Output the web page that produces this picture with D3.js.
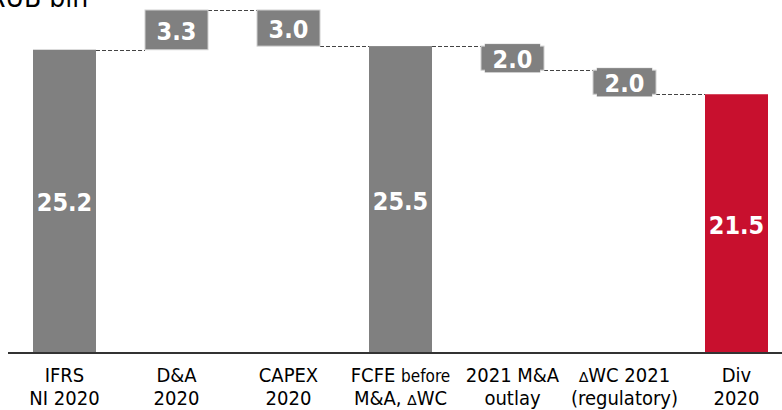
<!DOCTYPE html>
<html>
<head>
<meta charset="utf-8">
<script src="https://cdn.jsdelivr.net/npm/d3@7"></script>
<style>
  html, body { margin: 0; padding: 0; background: #fff; }
  svg { display: block; }
</style>
</head>
<body>
<svg id="chart" width="782" height="410"></svg>
<script>
// ---- data ----
const categories = ["IFRS|NI 2020", "D&A|2020", "CAPEX|2020", "FCFE before|M&A, \u2206WC", "2021 M&A|outlay", "\u2206WC 2021|(regulatory)", "Div|2020"];
const values = [25.2, 3.3, -3.0, 25.5, -2.0, -2.0, 21.5];
const kinds = ["total", "delta", "delta", "total", "delta", "delta", "final"];
const valueLabels = ["25.2", "3.3", "3.0", "25.5", "2.0", "2.0", "21.5"];
const unitLabel = "RUB bln";

// ---- build waterfall ----
let run = 0;
const rows = categories.map((c, i) => {
  let y0, y1;
  if (kinds[i] === "delta") { y0 = run; y1 = run + values[i]; run = y1; }
  else { y0 = 0; y1 = values[i]; run = values[i]; }
  return { cat: c, lo: Math.min(y0, y1), hi: Math.max(y0, y1), end: run, kind: kinds[i], label: valueLabels[i] };
});

const svg = d3.select("#chart");
const font = "'DejaVu Sans Condensed', 'DejaVu Sans', sans-serif";

const x = d3.scaleBand().domain(categories).range([8.5, 792.5]).paddingInner(0.4375).paddingOuter(0.21875);
const y = d3.scaleLinear().domain([0, 28.5]).range([353, 10]);

const gray = "#808080", red = "#C8102E", edge = "#cfcfcf";

// connectors
for (let i = 0; i < rows.length - 1; i++) {
  const lv = rows[i].end;
  svg.append("line")
    .attr("x1", x(rows[i].cat) + x.bandwidth())
    .attr("x2", x(rows[i + 1].cat))
    .attr("y1", Math.round(y(lv)) + 0.5)
    .attr("y2", Math.round(y(lv)) + 0.5)
    .attr("stroke", "#444").attr("stroke-width", 1)
    .attr("stroke-dasharray", "4,2");
}

const deltas = rows.filter(d => d.kind === "delta");
const mid = d => (y(d.hi) + y(d.lo)) / 2;
// label boxes for floating bars (outline pass)
function labelBox(sel) {
  return sel.attr("x", d => x(d.cat) + 4)
    .attr("width", x.bandwidth() - 8)
    .attr("y", d => Math.min(mid(d) - 14, y(d.hi) + 2))
    .attr("height", d => Math.max(28, y(d.lo) - y(d.hi) - 4));
}
labelBox(svg.selectAll("rect.lb1").data(deltas).join("rect").attr("class", "lb1"))
  .attr("fill", gray).attr("stroke", edge).attr("stroke-width", 1);

// bars
svg.selectAll("rect.bar").data(rows).join("rect")
  .attr("class", "bar")
  .attr("x", d => x(d.cat))
  .attr("width", x.bandwidth())
  .attr("y", d => y(d.hi))
  .attr("height", d => y(d.lo) - y(d.hi))
  .attr("fill", d => d.kind === "final" ? red : gray)
  .attr("stroke", d => d.kind === "delta" ? edge : "none")
  .attr("stroke-width", 1);

// fill pass to leave only union outline
labelBox(svg.selectAll("rect.lb2").data(deltas).join("rect").attr("class", "lb2"))
  .attr("fill", gray);

// value labels
svg.selectAll("text.val").data(rows).join("text")
  .attr("class", "val")
  .attr("x", d => x(d.cat) + x.bandwidth() / 2)
  .attr("y", d => mid(d) + 1)
  .attr("dy", "0.36em")
  .attr("text-anchor", "middle")
  .attr("fill", "#fff")
  .attr("font-family", font)
  .attr("font-weight", "bold")
  .attr("font-size", 25)
  .text(d => d.label);

// axis line
svg.append("line").attr("x1", 8).attr("x2", 782).attr("y1", 353).attr("y2", 353)
  .attr("stroke", "#333").attr("stroke-width", 2);

// category labels
const xl = svg.append("g");
function addParts(parent, str) {
  str.split(/(\u2206)/).forEach(p => {
    if (!p) return;
    const s = parent.append("tspan").text(p);
    if (p === "\u2206") s.attr("font-size", 14).attr("font-family", "'DejaVu Sans', sans-serif");
  });
}
categories.forEach(c => {
  const parts = c.split("|");
  const cx = x(c) + x.bandwidth() / 2;
  const t = xl.append("text").attr("text-anchor", "middle")
    .attr("font-family", font).attr("font-size", 20).attr("fill", "#000");
  const l1 = t.append("tspan").attr("x", cx).attr("y", 382);
  if (parts[0] === "FCFE before") {
    l1.append("tspan").text("FCFE ");
    l1.append("tspan").attr("font-size", 17).text("before");
  } else {
    addParts(l1, parts[0]);
  }
  const l2 = t.append("tspan").attr("x", cx).attr("y", 405);
  addParts(l2, parts[1]);
});

// unit label (clipped at top in reference)
svg.append("text").attr("x", -12).attr("y", 7)
  .attr("font-family", font).attr("font-size", 28).attr("fill", "#000")
  .text(unitLabel);
</script>
</body>
</html>
